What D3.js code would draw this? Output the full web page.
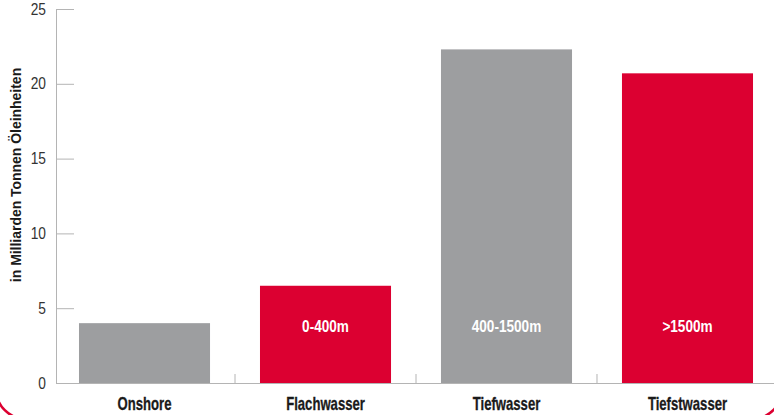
<!DOCTYPE html>
<html><head><meta charset="utf-8">
<script src="https://cdn.jsdelivr.net/npm/d3@7"></script>
<style>
body{margin:0;background:#fff;}
svg{display:block;font-family:"Liberation Sans",Arial,Helvetica,sans-serif;}
</style></head>
<body>
<svg id="c" width="774" height="415"></svg>
<script>
const categories = ["Onshore","Flachwasser","Tiefwasser","Tiefstwasser"];
const values = [4.0, 6.5, 22.3, 20.7];
const innerLabels = ["", "0-400m", "400-1500m", ">1500m"];
const barColors = ["#9d9ea0","#dc0031","#9d9ea0","#dc0031"];
const yTicks = [0,5,10,15,20,25];
const yTitle = "in Milliarden Tonnen Öleinheiten";

const svg = d3.select("#c");
const x0 = 56, x1 = 776, yBase = 383, yTop = 9;
const x = d3.scaleBand().domain(categories).range([x0,x1]).paddingInner(0.276).paddingOuter(0.127);
const y = d3.scaleLinear().domain([0,25]).range([yBase,yTop]);
const axisColor = "#b4b4b4";

// red frame corners
svg.append("rect").attr("x",-4).attr("y",-60).attr("width",786).attr("height",479)
  .attr("rx",30).attr("fill","none").attr("stroke","#dc0031").attr("stroke-width",2.5);

// y axis
svg.append("line").attr("x1",x0+0.5).attr("x2",x0+0.5).attr("y1",yTop).attr("y2",yBase).attr("stroke",axisColor);
svg.selectAll(".yt").data(yTicks).join("line")
  .attr("x1",x0).attr("x2",x0+18).attr("y1",d=>y(d)+0.5).attr("y2",d=>y(d)+0.5).attr("stroke",axisColor);
svg.selectAll(".yl").data(yTicks).join("text")
  .attr("transform",d=>`translate(46,${y(d)}) scale(0.86,1)`).attr("dy","0.35em").attr("text-anchor","end")
  .attr("font-size",16).attr("fill","#333").text(d=>d);

// bars
const step = x.step();
svg.selectAll(".bar").data(categories).join("rect")
  .attr("x",d=>x(d)).attr("width",x.bandwidth())
  .attr("y",(d,i)=>y(values[i])).attr("height",(d,i)=>yBase-y(values[i]))
  .attr("fill",(d,i)=>barColors[i]);

// x axis baseline and boundary ticks
svg.append("line").attr("x1",x0).attr("x2",774).attr("y1",yBase+0.5).attr("y2",yBase+0.5).attr("stroke",axisColor);
svg.selectAll(".xt").data(categories.slice(1)).join("line")
  .attr("x1",d=>x(d)-step*x.paddingInner()/2).attr("x2",d=>x(d)-step*x.paddingInner()/2)
  .attr("y1",yBase-9).attr("y2",yBase).attr("stroke",axisColor);

// inner labels
svg.selectAll(".il").data(categories).join("text")
  .attr("transform",d=>`translate(${x(d)+x.bandwidth()/2},326) scale(0.8,1)`).attr("dy","0.35em")
  .attr("text-anchor","middle").attr("font-size",17).attr("font-weight","bold").attr("fill","#fff")
  .text((d,i)=>innerLabels[i]);

// category labels
svg.selectAll(".cl").data(categories).join("text")
  .attr("transform",d=>`translate(${x(d)+x.bandwidth()/2},404) scale(0.75,1)`).attr("dy","0.35em")
  .attr("text-anchor","middle").attr("font-size",17.5).attr("font-weight","bold").attr("fill","#1a1a1a")
  .attr("stroke","#1a1a1a").attr("stroke-width",0.3)
  .text(d=>d);

// y title
svg.append("text").attr("transform","translate(16,175) rotate(-90) scale(0.9,1)").attr("dy","0.35em")
  .attr("text-anchor","middle").attr("font-size",15.5).attr("font-weight","bold").attr("fill","#1a1a1a")
  .text(yTitle);
</script>
</body></html>
